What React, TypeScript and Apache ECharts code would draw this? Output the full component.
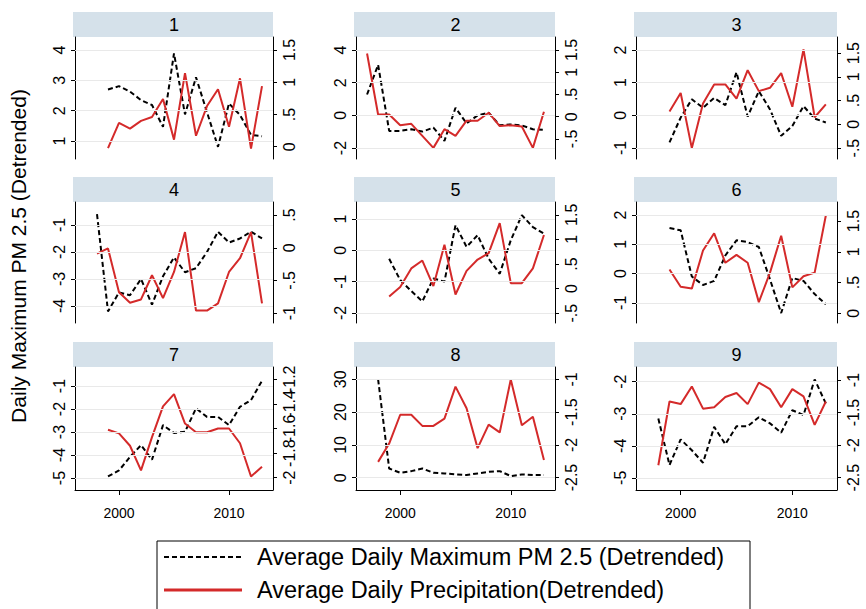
import React, { useEffect, useRef } from "react";
import * as echarts from "echarts";

// ---- data ----
const years97 = [1997, 1998, 1999, 2000, 2001, 2002, 2003, 2004, 2005, 2006, 2007, 2008, 2009, 2010, 2011, 2012, 2013];
const years98 = [1998, 1999, 2000, 2001, 2002, 2003, 2004, 2005, 2006, 2007, 2008, 2009, 2010, 2011, 2012, 2013];
const years99 = [1999, 2000, 2001, 2002, 2003, 2004, 2005, 2006, 2007, 2008, 2009, 2010, 2011, 2012, 2013];

const pm1 = [2.7, 2.81, 2.63, 2.35, 2.19, 1.47, 3.89, 1.88, 3.1, 1.95, 0.81, 2.24, 1.86, 1.2, 1.16];
const pr1 = [-0.02, 0.37, 0.28, 0.4, 0.46, 0.74, 0.11, 1.14, 0.17, 0.63, 0.89, 0.31, 1.06, -0.03, 0.94];

const pm2 = [1.28, 3.1, -0.95, -0.95, -0.85, -0.99, -0.75, -1.56, 0.47, -0.49, 0.0, 0.16, -0.61, -0.55, -0.61, -0.85, -0.89];
const pr2 = [1.42, 0.05, 0.05, -0.19, -0.16, -0.43, -0.7, -0.28, -0.43, -0.09, -0.09, 0.09, -0.21, -0.19, -0.22, -0.7, 0.11];

const pm3 = [-0.83, -0.07, 0.49, 0.23, 0.53, 0.31, 1.32, -0.04, 0.74, 0.18, -0.63, -0.33, 0.28, -0.1, -0.22];
const pr3 = [0.27, 0.66, -0.5, 0.44, 0.84, 0.84, 0.54, 1.14, 0.7, 0.77, 1.08, 0.37, 1.58, 0.15, 0.42];

const pm4 = [-0.6, -4.2, -3.5, -3.6, -3.0, -3.95, -2.9, -2.2, -2.75, -2.6, -2.0, -1.25, -1.65, -1.5, -1.25, -1.5];
const pr4 = [-0.09, -0.01, -0.68, -0.84, -0.79, -0.42, -0.77, -0.37, 0.24, -0.96, -0.96, -0.85, -0.37, -0.16, 0.24, -0.85];

const pm5 = [-0.27, -0.95, -1.3, -1.63, -0.9, -1.0, 0.8, 0.11, 0.48, -0.27, -0.75, 0.32, 1.12, 0.74, 0.53];
const pr5 = [-0.16, 0.03, 0.41, 0.57, 0.05, 0.89, -0.12, 0.36, 0.59, 0.72, 1.33, 0.11, 0.11, 0.41, 1.09];

const pm6 = [1.56, 1.48, -0.1, -0.39, -0.25, 0.62, 1.14, 1.08, 0.91, -0.2, -1.35, -0.15, -0.25, -0.7, -1.05];
const pr6 = [0.71, 0.43, 0.4, 1.02, 1.3, 0.82, 0.95, 0.82, 0.18, 0.66, 1.26, 0.42, 0.6, 0.66, 1.59];

const pm7 = [-4.93, -4.67, -4.08, -3.57, -4.2, -2.7, -3.04, -2.99, -1.97, -2.34, -2.34, -2.7, -1.9, -1.61, -0.77];
const pr7 = [-1.61, -1.64, -1.74, -1.94, -1.67, -1.42, -1.32, -1.56, -1.63, -1.63, -1.6, -1.6, -1.72, -1.99, -1.91];

const pm8 = [30, 2.8, 1.5, 2.0, 2.8, 1.5, 1.3, 1.0, 0.8, 1.3, 1.8, 2.0, 0.5, 1.0, 0.8, 0.8];
const pr8 = [-2.26, -1.98, -1.54, -1.54, -1.71, -1.71, -1.6, -1.11, -1.44, -2.05, -1.69, -1.81, -1.0, -1.7, -1.57, -2.23];

const pm9 = [-3.15, -4.6, -3.8, -4.14, -4.53, -3.41, -3.95, -3.39, -3.39, -3.11, -3.3, -3.59, -2.89, -3.04, -1.93, -2.68];
const pr9 = [-2.31, -1.33, -1.37, -1.1, -1.44, -1.42, -1.26, -1.2, -1.37, -1.04, -1.14, -1.42, -1.14, -1.25, -1.69, -1.33];

const panelTitles = ["1", "2", "3", "4", "5", "6", "7", "8", "9"];
const panelYears = [years99, years97, years99, years98, years99, years99, years99, years98, years98];
const panelPm = [pm1, pm2, pm3, pm4, pm5, pm6, pm7, pm8, pm9];
const panelPr = [pr1, pr2, pr3, pr4, pr5, pr6, pr7, pr8, pr9];

const leftTicks = [
  [1, 2, 3, 4], [-2, 0, 2, 4], [-1, 0, 1, 2],
  [-4, -3, -2, -1], [-2, -1, 0, 1], [-1, 0, 1, 2],
  [-5, -4, -3, -2, -1], [0, 10, 20, 30], [-5, -4, -3, -2],
];
const rightTicks = [
  [0, 0.5, 1, 1.5], [-0.5, 0, 0.5, 1, 1.5], [-0.5, 0, 0.5, 1, 1.5],
  [-1, -0.5, 0, 0.5], [-0.5, 0, 0.5, 1, 1.5], [0, 0.5, 1, 1.5],
  [-2, -1.8, -1.6, -1.4, -1.2], [-2.5, -2, -1.5, -1], [-2.5, -2, -1.5, -1],
];
const leftRange = [
  [0.41, 4.43], [-2.67, 4.8], [-1.34, 2.4],
  [-4.63, -0.15], [-2.32, 1.54], [-1.69, 2.45],
  [-5.52, -0.17], [-3.75, 33.75], [-5.38, -1.54],
];
const rightRange = [
  [-0.19, 1.7], [-0.95, 1.79], [-0.73, 1.84],
  [-1.15, 0.7], [-0.7, 1.76], [-0.16, 1.81],
  [-2.1, -1.1], [-2.69, -0.81], [-2.69, -0.8],
];
const xTicks = [2000, 2010];
const legendLabels = ["Average Daily Maximum PM 2.5 (Detrended)", "Average Daily Precipitation(Detrended)"];
const yTitle = "Daily Maximum PM 2.5 (Detrended)";

// ---- layout ----
const FONT = "Liberation Sans";
const RED = "#d42a2a";
const HEADER = "#d5e1ea";
const cols = [
  { left: 75, width: 198 },
  { left: 356, width: 199 },
  { left: 636, width: 201 },
];
const rows = [
  { top: 37, height: 122 },
  { top: 202, height: 121 },
  { top: 367, height: 123 },
];

const fmt = (v: number) => {
  const s = String(Math.round(v * 100) / 100);
  return s.replace(/^(-?)0\./, "$1.");
};

function buildOption() {
  const grid: any[] = [];
  const xAxis: any[] = [];
  const yAxis: any[] = [];
  const series: any[] = [];
  const graphic: any[] = [];

  const labelCommon = {
    rotate: 90, fontSize: 16, fontFamily: FONT, color: "#000", margin: 8,
    showMinLabel: true, showMaxLabel: true, hideOverlap: false, formatter: fmt,
  };

  for (let i = 0; i < 9; i++) {
    const c = cols[i % 3];
    const r = rows[Math.floor(i / 3)];
    const bottomRow = Math.floor(i / 3) === 2;
    grid.push({ left: c.left, top: r.top, width: c.width, height: r.height, containLabel: false });

    xAxis.push({
      type: "value",
      gridIndex: i,
      min: 1996,
      max: 2014,
      show: bottomRow,
      axisLine: { show: true, onZero: false, lineStyle: { color: "#000", width: 1 } },
      axisTick: { show: true, customValues: xTicks, length: 5, lineStyle: { color: "#000" } },
      axisLabel: {
        customValues: xTicks, fontSize: 14, fontFamily: FONT, color: "#000", margin: 16,
        showMinLabel: true, showMaxLabel: true,
        formatter: (v: number) => String(v),
      },
      splitLine: { show: false },
    });

    const axisCommon = {
      type: "value",
      gridIndex: i,
      axisLine: { show: true, onZero: false, lineStyle: { color: "#000", width: 1 } },
      splitLine: { show: false },
    };
    const leftIdx = yAxis.length;
    yAxis.push({
      ...axisCommon,
      position: "left",
      min: leftRange[i][0],
      max: leftRange[i][1],
      axisTick: { show: true, customValues: leftTicks[i], length: 4, lineStyle: { color: "#000" } },
      axisLabel: { ...labelCommon, customValues: leftTicks[i] },
    });
    // right axis: even-indexed labels on the main axis, odd-indexed on an overlay axis
    const rt = rightTicks[i];
    const rtEven = rt.filter((_, k) => k % 2 === 0);
    const rtOdd = rt.filter((_, k) => k % 2 === 1);
    const rightIdx = yAxis.length;
    yAxis.push({
      ...axisCommon,
      position: "right",
      min: rightRange[i][0],
      max: rightRange[i][1],
      axisTick: { show: true, customValues: rt, length: 4, lineStyle: { color: "#000" } },
      axisLabel: { ...labelCommon, customValues: rtEven },
    });
    yAxis.push({
      type: "value",
      gridIndex: i,
      position: "right",
      offset: 0,
      min: rightRange[i][0],
      max: rightRange[i][1],
      axisLine: { show: false, onZero: false },
      splitLine: { show: false },
      axisTick: { show: false, customValues: rtOdd, length: 4 },
      axisLabel: { ...labelCommon, customValues: rtOdd },
    });

    const yrs = panelYears[i];
    series.push({
      type: "line",
      xAxisIndex: i,
      yAxisIndex: leftIdx,
      data: yrs.map((y, k) => [y, panelPm[i][k]]),
      symbol: "none",
      lineStyle: { color: "#000", width: 2, type: [5, 3] },
      z: 2,
      markLine: {
        silent: true,
        symbol: "none",
        label: { show: false },
        lineStyle: { color: "#e9e9e9", type: "solid", width: 1 },
        data: leftTicks[i].map((v) => ({ yAxis: v })),
      },
    });
    series.push({
      type: "line",
      xAxisIndex: i,
      yAxisIndex: rightIdx,
      data: yrs.map((y, k) => [y, panelPr[i][k]]),
      symbol: "none",
      lineStyle: { color: RED, width: 2 },
      z: 3,
    });

    graphic.push({
      type: "rect",
      shape: { x: c.left - 2, y: r.top - 25, width: c.width + 2, height: 25 },
      style: { fill: HEADER },
      silent: true,
    });
    graphic.push({
      type: "text",
      x: c.left + c.width / 2,
      y: r.top - 12.5,
      style: {
        text: panelTitles[i], fontSize: 18, fontFamily: FONT, fill: "#000",
        align: "center", verticalAlign: "middle",
      },
      silent: true,
    });
  }

  graphic.push({
    type: "text",
    x: 18,
    y: 256,
    rotation: Math.PI / 2,
    style: {
      text: yTitle, fontSize: 21, fontFamily: FONT, fill: "#000",
      align: "center", verticalAlign: "middle",
    },
  });

  // legend box
  graphic.push({
    type: "rect",
    shape: { x: 157, y: 541, width: 593, height: 90 },
    style: { fill: "#fff", stroke: "#000", lineWidth: 1 },
  });
  graphic.push({
    type: "line",
    shape: { x1: 164, y1: 557, x2: 242, y2: 557 },
    style: { stroke: "#000", lineWidth: 2, lineDash: [5, 3] },
  });
  graphic.push({
    type: "line",
    shape: { x1: 164, y1: 590, x2: 242, y2: 590 },
    style: { stroke: RED, lineWidth: 3 },
  });
  graphic.push({
    type: "text",
    x: 257,
    y: 557,
    style: { text: legendLabels[0], fontSize: 23.5, fontFamily: FONT, fill: "#000", align: "left", verticalAlign: "middle" },
  });
  graphic.push({
    type: "text",
    x: 257,
    y: 590,
    style: { text: legendLabels[1], fontSize: 23.5, fontFamily: FONT, fill: "#000", align: "left", verticalAlign: "middle" },
  });

  return {
    animation: false,
    backgroundColor: "#fff",
    grid,
    xAxis,
    yAxis,
    series,
    graphic,
  };
}

export default function App() {
  const ref = useRef<HTMLDivElement>(null);
  useEffect(() => {
    if (!ref.current) return;
    const chart = echarts.init(ref.current, undefined, { renderer: "svg" });
    chart.setOption(buildOption() as any);
    return () => chart.dispose();
  }, []);
  return (
    <div
      ref={ref}
      style={{ position: "absolute", left: 0, top: 0, width: 866, height: 609 }}
    />
  );
}
